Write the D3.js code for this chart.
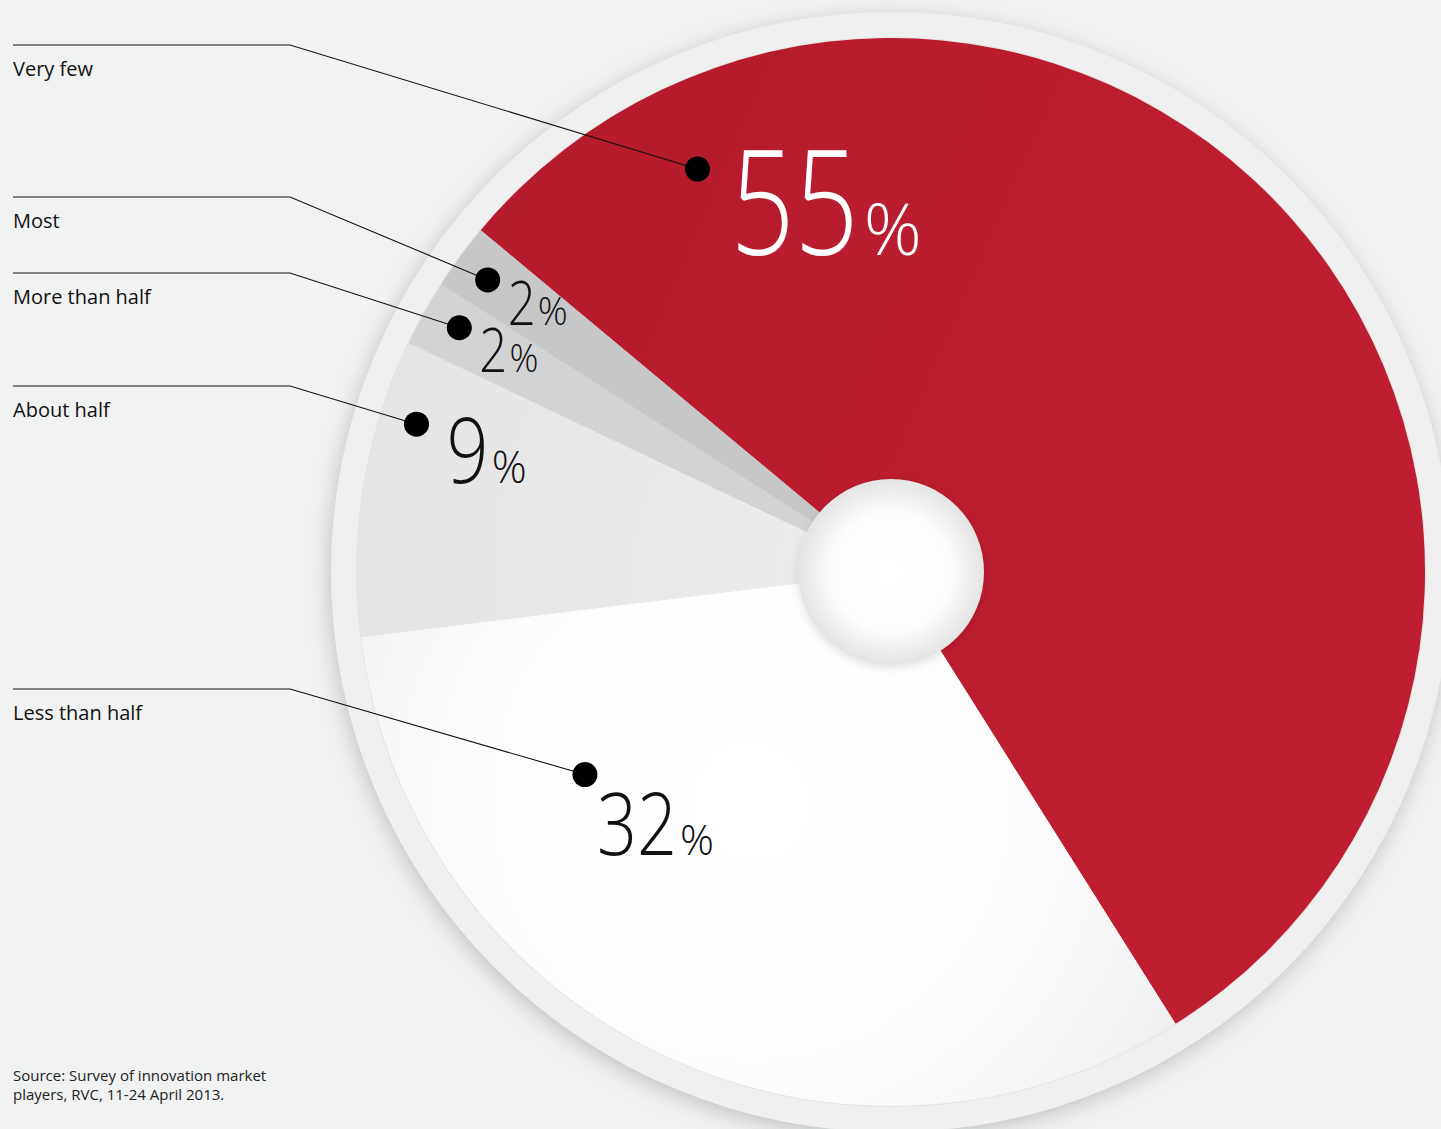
<!DOCTYPE html>
<html>
<head>
<meta charset="utf-8">
<script src="https://cdn.jsdelivr.net/npm/d3@7"></script>
<style>
  html, body { margin: 0; padding: 0; background: #f1f2f2; }
  svg { display: block; }
</style>
</head>
<body>
<svg id="chart" width="1441" height="1129"></svg>
<script>
// Survey answers, clockwise from the top-left edge of the red slice
const categories = ["Very few", "Less than half", "About half", "More than half", "Most"];
const values = [55, 32, 9, 2, 2];
const sourceLines = ["Source: Survey of innovation market", "players, RVC, 11-24 April 2013."];

// Slice fills (ids of gradients defined below)
const sliceFills = ["url(#gRed)", "url(#gWhite)", "url(#gAbout)", "#d2d3d5", "#c6c7c9"];
const numberColors = ["#ffffff", "#111111", "#111111", "#111111", "#111111"];

// Layout
const W = 1441, H = 1129;
const cx = 891, cy = 572;
const rPie = 534, rHole = 93, rRing = 560;
const startAngle = -50.2 * Math.PI / 180;

// Callout layout per category: row line y, dot position (fraction of slice span, radius),
// number font size / width, and text offset from the dot
const callouts = [
  { rowY: 45,  frac: 0.124, r: 447, numSize: 146, numW: 128, pctSize: 72, pctW: 58, dx: 33, dy: 86 },
  { rowY: 689, frac: 0.77,  r: 367, numSize: 86,  numW: 80,  pctSize: 43, pctW: 34, dx: 12, dy: 80 },
  { rowY: 386, frac: 0.75,  r: 497, numSize: 90,  numW: 42,  pctSize: 44, pctW: 35, dx: 30, dy: 59 },
  { rowY: 273, frac: 0.57,  r: 496, numSize: 60,  numW: 28,  pctSize: 38, pctW: 29, dx: 20, dy: 44 },
  { rowY: 197, frac: 0.46,  r: 498, numSize: 60,  numW: 28,  pctSize: 38, pctW: 30, dx: 20, dy: 45 }
];

const svg = d3.select("#chart");
const defs = svg.append("defs");

// Ring shadow
const fShadow = defs.append("filter").attr("id", "ringShadow")
  .attr("x", "-20%").attr("y", "-20%").attr("width", "140%").attr("height", "140%");
fShadow.append("feDropShadow").attr("dx", -2).attr("dy", 5)
  .attr("stdDeviation", 10).attr("flood-color", "#8f9292").attr("flood-opacity", 0.5);

const fHole = defs.append("filter").attr("id", "holeShadow")
  .attr("x", "-30%").attr("y", "-30%").attr("width", "160%").attr("height", "160%");
fHole.append("feDropShadow").attr("dx", 0).attr("dy", 2)
  .attr("stdDeviation", 4).attr("flood-color", "#000").attr("flood-opacity", 0.12);

// Gradient coordinates are in the pie group's space (origin at the pie centre)
const gRed = defs.append("linearGradient").attr("id", "gRed")
  .attr("gradientUnits", "userSpaceOnUse")
  .attr("x1", -420).attr("y1", -300).attr("x2", 500).attr("y2", 100);
gRed.append("stop").attr("offset", 0).attr("stop-color", "#b41b2c");
gRed.append("stop").attr("offset", 0.45).attr("stop-color", "#bb1d2f");
gRed.append("stop").attr("offset", 1).attr("stop-color", "#be1e30");

const gWhite = defs.append("radialGradient").attr("id", "gWhite")
  .attr("gradientUnits", "userSpaceOnUse")
  .attr("cx", -140).attr("cy", 230).attr("r", 520);
gWhite.append("stop").attr("offset", 0).attr("stop-color", "#ffffff");
gWhite.append("stop").attr("offset", 0.55).attr("stop-color", "#fcfcfc");
gWhite.append("stop").attr("offset", 0.85).attr("stop-color", "#f3f3f3");
gWhite.append("stop").attr("offset", 1).attr("stop-color", "#ebebeb");

const gAbout = defs.append("radialGradient").attr("id", "gAbout")
  .attr("gradientUnits", "userSpaceOnUse")
  .attr("cx", 0).attr("cy", 0).attr("r", rPie);
gAbout.append("stop").attr("offset", 0).attr("stop-color", "#ededed");
gAbout.append("stop").attr("offset", 1).attr("stop-color", "#e5e5e5");

const gHole = defs.append("radialGradient").attr("id", "gHole")
  .attr("cx", "0.5").attr("cy", "0.5").attr("r", "0.5");
gHole.append("stop").attr("offset", 0).attr("stop-color", "#ffffff");
gHole.append("stop").attr("offset", 0.65).attr("stop-color", "#fcfcfc");
gHole.append("stop").attr("offset", 1).attr("stop-color", "#e4e4e4");

// Background
svg.append("rect").attr("width", W).attr("height", H).attr("fill", "#f1f2f2");

// Outer ring
svg.append("circle").attr("cx", cx).attr("cy", cy).attr("r", rRing)
  .attr("fill", "#f0f0f0").attr("filter", "url(#ringShadow)");
svg.append("circle").attr("cx", cx).attr("cy", cy).attr("r", rPie + 1)
  .attr("fill", "#e3e3e3");

// Pie
const pie = d3.pie().sort(null).value(d => d)
  .startAngle(startAngle).endAngle(startAngle + 2 * Math.PI);
const arcs = pie(values);
const arc = d3.arc().innerRadius(0).outerRadius(rPie);

const gPie = svg.append("g").attr("transform", `translate(${cx},${cy})`);
gPie.selectAll("path.slice").data(arcs).join("path")
  .attr("class", "slice")
  .attr("d", arc)
  .attr("fill", (d, i) => sliceFills[i]);

// Centre disc
gPie.append("circle").attr("r", rHole).attr("fill", "url(#gHole)")
  .attr("filter", "url(#holeShadow)");

// Callouts
const pointArc = d3.arc();
const anchors = arcs.map((a, i) => {
  const c = callouts[i];
  const ang = a.startAngle + c.frac * (a.endAngle - a.startAngle);
  const p = pointArc.innerRadius(c.r).outerRadius(c.r).startAngle(ang).endAngle(ang).centroid();
  return [cx + p[0], cy + p[1]];
});

// Draws text starting at (x, y), squeezed horizontally to the given width
function fitText(g, x, y, size, width, color, str) {
  const t = g.append("text").attr("x", 0).attr("y", 0)
    .attr("font-family", "'Open Sans', 'Lato', sans-serif").attr("font-weight", 300)
    .attr("font-size", size).attr("fill", color).text(str);
  const natural = t.node().getComputedTextLength() || width;
  t.attr("transform", `translate(${x},${y}) scale(${width / natural},1)`);
  return t;
}

const gLabels = svg.append("g");
categories.forEach((name, i) => {
  const c = callouts[i];
  const [px, py] = anchors[i];
  gLabels.append("path")
    .attr("d", d3.line()([[13, c.rowY], [290, c.rowY], [px, py]]))
    .attr("fill", "none").attr("stroke", "#111").attr("stroke-width", 1.1);
  gLabels.append("circle").attr("cx", px).attr("cy", py).attr("r", 12.5).attr("fill", "#000");
  gLabels.append("text").attr("x", 13).attr("y", c.rowY + 31)
    .attr("font-family", "'Open Sans', 'Noto Sans', sans-serif")
    .attr("font-size", 20).attr("fill", "#111").text(name);

  const tx = px + c.dx, ty = py + c.dy;
  fitText(gLabels, tx, ty, c.numSize, c.numW, numberColors[i], String(values[i]));
  fitText(gLabels, tx + c.numW + c.numSize * 0.035, ty, c.pctSize, c.pctW, numberColors[i], "%");
});

// Source note
svg.append("text").attr("x", 13).attr("y", 1081)
  .attr("font-family", "'Open Sans', 'Noto Sans', sans-serif")
  .attr("font-size", 15).attr("fill", "#222")
  .selectAll("tspan").data(sourceLines).join("tspan")
  .attr("x", 13).attr("dy", (d, i) => i === 0 ? 0 : 19).text(d => d);
</script>
</body>
</html>
